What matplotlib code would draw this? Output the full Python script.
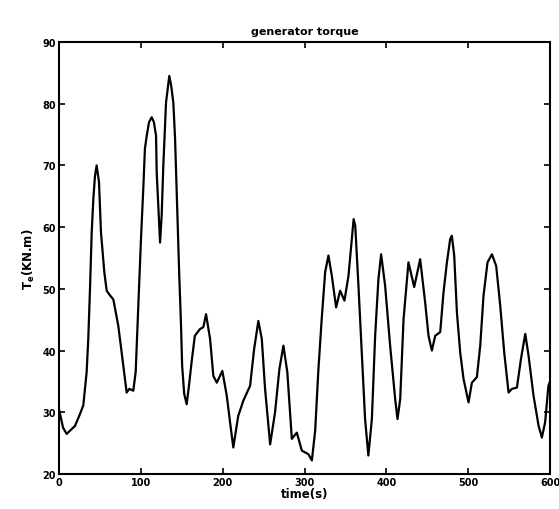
import matplotlib
matplotlib.use("Agg")
import matplotlib.pyplot as plt

# time [s] and generator torque [kN.m]
time_s = [0, 5, 9.4, 19.6, 25, 29.7, 33.8, 35.8, 37.9, 40, 42, 44, 46, 48.9, 51.3,
          55.4, 58.3, 62, 66.4, 72.5, 76.6, 82.7, 86, 90.8, 93.7, 97, 100.2, 103,
          105, 107.2, 110, 113.3, 116, 118.6, 119.4, 121.5, 123.5, 125.5, 127.5,
          129.6, 130.8, 134.8, 137, 139.7, 141.8, 144.5, 147, 149, 150.5, 153, 156,
          159, 162, 166, 172.4, 176.4, 179.7, 184.6, 188.6, 192.8, 199.6, 205, 209,
          213, 219, 225.3, 233.5, 238.4, 243.6, 247.8, 251.8, 258, 264, 269.3,
          274.2, 279, 284.5, 290.6, 296.7, 304.8, 309, 313, 317, 321, 325.2, 329.2,
          333.4, 338.6, 343.5, 348.8, 353.7, 357.8, 360, 362, 365.9, 370, 374, 378,
          382.3, 386.3, 390.3, 393.6, 398.5, 404.6, 410.8, 413.6, 416.9, 421, 427,
          434, 441.3, 447.4, 451.5, 455.6, 459.7, 465.8, 469.8, 474, 478, 480,
          482.9, 486.2, 490.2, 494.3, 500.4, 504.5, 510.6, 514.7, 518.7, 523.6,
          529, 534.2, 539.1, 544, 549.3, 553.4, 559.5, 564.4, 569.7, 573.7, 579.8,
          586, 590, 594, 598, 600]
torque = [30.5, 27.5, 26.5, 27.8, 29.5, 31.1, 36.5, 41.9, 50.0, 59.2, 64.6, 68.3,
          70.0, 67.3, 59.2, 52.7, 49.7, 49.0, 48.3, 44.0, 39.7, 33.2, 33.8, 33.5,
          36.5, 47.3, 58.1, 66.2, 72.7, 74.8, 77.0, 77.8, 77.0, 74.8, 68.9, 63.0,
          57.5, 62.0, 70.0, 76.4, 80.2, 84.5, 83.0, 80.2, 74.5, 63.0, 52.0, 44.6,
          37.5, 33.0, 31.3, 34.5, 38.1, 42.4, 43.5, 43.8, 45.9, 41.9, 35.9, 34.8,
          36.7, 32.7, 28.4, 24.3, 29.4, 31.9, 34.3, 40.2, 44.8, 41.9, 33.8, 24.8,
          30.0, 37.0, 40.8, 36.5, 25.7, 26.7, 23.8, 23.2, 22.2, 27.0, 37.0, 45.1,
          52.7, 55.4, 52.1, 47.0, 49.7, 48.1, 52.1, 58.1, 61.3, 60.2, 50.5, 39.7,
          28.9, 23.0, 28.9, 42.4, 51.6, 55.6, 50.5, 40.8, 32.1, 28.9, 32.1, 45.1,
          54.3, 50.3, 54.8, 47.8, 42.4, 40.0, 42.4, 43.0, 49.4, 54.3, 58.1, 58.6,
          55.4, 46.2, 39.7, 35.4, 31.6, 34.8, 35.7, 40.8, 48.9, 54.3, 55.6, 53.7,
          47.3, 39.7, 33.2, 33.8, 34.0, 38.6, 42.7, 39.2, 32.7, 27.8, 25.9, 28.4,
          34.3, 35.0]

x_ticks = [0, 100, 200, 300, 400, 500, 600]
y_ticks = [20, 30, 40, 50, 60, 70, 80, 90]

fig = plt.figure(figsize=(5.59, 5.10), dpi=100)
ax = fig.add_axes([0.1055, 0.0686, 0.8785, 0.8471])

ax.plot(time_s, torque, color="black", linewidth=1.6)

ax.set_xlim(0, 600)
ax.set_ylim(20, 90)
ax.set_xticks(x_ticks)
ax.set_yticks(y_ticks)
ax.tick_params(direction="in", top=True, right=True, length=4, width=1.2,
               labelsize=7, pad=2)
for lbl in ax.get_xticklabels() + ax.get_yticklabels():
    lbl.set_fontweight("bold")
for s in ax.spines.values():
    s.set_linewidth(1.5)

ax.set_title("generator torque", fontsize=8, fontweight="bold", pad=6)
ax.set_xlabel("time(s)", fontsize=8.5, fontweight="bold", labelpad=0)
ax.set_ylabel(r"$\mathbf{T_e}$(KN.m)", fontsize=8.5, fontweight="bold", labelpad=4)

fig.savefig("out.png", dpi=100)
